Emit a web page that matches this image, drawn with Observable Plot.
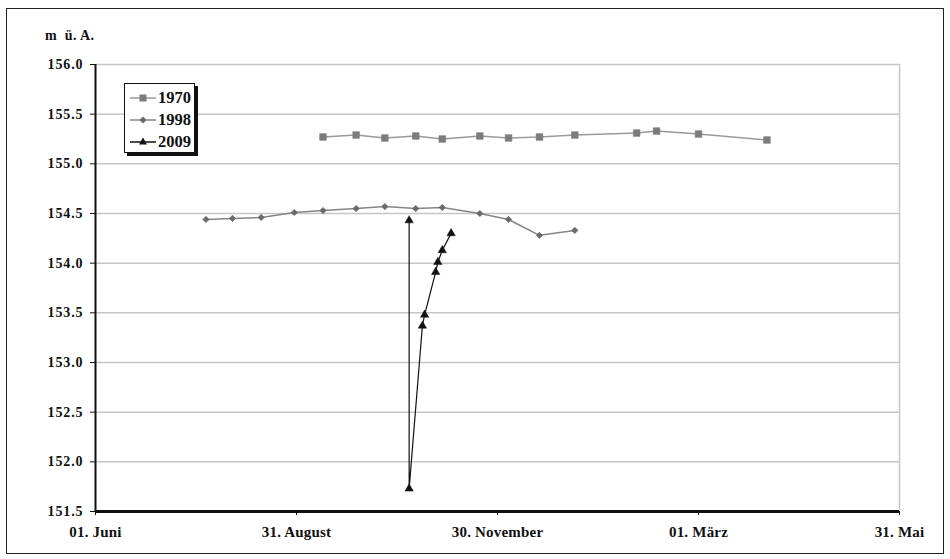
<!DOCTYPE html>
<html>
<head>
<meta charset="utf-8">
<script src="https://cdn.jsdelivr.net/npm/d3@7"></script>
<script src="https://cdn.jsdelivr.net/npm/@observablehq/plot@0.6"></script>
<style>
  body { margin: 0; background: #fff; }
  #wrap { position: relative; width: 950px; height: 559px; font-family: "Liberation Serif", "Times New Roman", serif; font-weight: bold; }
  #frame { position: absolute; left: 6px; top: 8px; width: 938px; height: 546px; border: 1.5px solid #222; box-sizing: border-box; pointer-events: none; }
  #ytitle { position: absolute; left: 45px; top: 28px; font-size: 14px; letter-spacing: 0.4px; color: #111; }
  #legend { position: absolute; left: 124px; top: 83px; width: 71px; height: 70px; border: 1.5px solid #111; box-shadow: 3px 3px 0 #111; background: #fff; box-sizing: border-box; padding-top: 3px; }
  .row { display: flex; align-items: center; height: 22px; padding-left: 5px; font-size: 16.5px; color: #111; }
  .row svg { margin-right: 2px; }
  .yax text { font-size: 14px; letter-spacing: 0.9px; }
  .xax text { font-size: 15px; letter-spacing: 0.2px; }
</style>
</head>
<body>
<div id="wrap">
  <div id="chart"></div>
  <div id="ytitle">m&nbsp; ü. A.</div>
  <div id="legend"></div>
  <div id="frame"></div>
</div>
<script>
// Days counted from 01. Juni
const xTicks = [0, 91, 182, 273, 364];
const xLabels = ["01. Juni", "31. August", "30. November", "01. März", "31. Mai"];
const yTicks = [151.5, 152.0, 152.5, 153.0, 153.5, 154.0, 154.5, 155.0, 155.5, 156.0];

const years = ["1970", "1998", "2009"];

const days1970 = [103, 118, 131, 145, 157, 174, 187, 201, 217, 245, 254, 273, 304];
const vals1970 = [155.27, 155.29, 155.26, 155.28, 155.25, 155.28, 155.26, 155.27, 155.29, 155.31, 155.33, 155.30, 155.24];

const days1998 = [50, 62, 75, 90, 103, 118, 131, 145, 157, 174, 187, 201, 217];
const vals1998 = [154.44, 154.45, 154.46, 154.51, 154.53, 154.55, 154.57, 154.55, 154.56, 154.50, 154.44, 154.28, 154.33];

const days2009 = [142, 142, 148, 149, 154, 155, 157, 161];
const vals2009 = [154.43, 151.73, 153.37, 153.48, 153.91, 154.01, 154.13, 154.30];

const rows = (year, ds, vs) => ds.map((d, i) => ({year, day: d, value: vs[i]}));
const d1970 = rows("1970", days1970, vals1970);
const d1998 = rows("1998", days1998, vals1998);
const d2009 = rows("2009", days2009, vals2009);

const chart = Plot.plot({
  width: 950,
  height: 559,
  marginLeft: 95,
  marginRight: 51,
  marginTop: 64,
  marginBottom: 48,
  x: {domain: [0, 364]},
  y: {domain: [151.5, 156]},
  style: {fontFamily: "'Liberation Serif', 'Times New Roman', serif", fontWeight: "bold", fontSize: "14px", color: "#111", background: "transparent"},
  marks: [
    Plot.ruleY(yTicks.filter(t => t > 151.5), {stroke: "#c6c6c6", strokeWidth: 1.5}),
    Plot.ruleX([364], {stroke: "#c6c6c6", strokeWidth: 1.5}),
    Plot.axisY({ticks: yTicks, tickFormat: d => d.toFixed(1), tickSize: 5, tickPadding: 7, label: null, stroke: "#111", className: "yax"}),
    Plot.axisX({ticks: xTicks, tickFormat: d => xLabels[xTicks.indexOf(d)], tickSize: 4, tickPadding: 11, label: null, stroke: "#111", className: "xax"}),
    Plot.ruleX([0], {stroke: "#111", strokeWidth: 2}),
    Plot.ruleY([151.5], {stroke: "#111", strokeWidth: 3}),
    Plot.line(d1970, {x: "day", y: "value", stroke: "#9a9a9a", strokeWidth: 1.5}),
    Plot.dot(d1970, {x: "day", y: "value", symbol: "square", r: 3.8, fill: "#7c7c7c", stroke: "#7c7c7c", strokeWidth: 0.5}),
    Plot.line(d1998, {x: "day", y: "value", stroke: "#858585", strokeWidth: 1.5}),
    Plot.dot(d1998, {x: "day", y: "value", symbol: "diamond2", r: 2.8, fill: "#6a6a6a", stroke: "#6a6a6a", strokeWidth: 0.8}),
    Plot.line(d2009, {x: "day", y: "value", stroke: "#111", strokeWidth: 1.2}),
    Plot.dot(d2009, {x: "day", y: "value", symbol: "triangle", r: 3.1, fill: "#111", stroke: "#111", strokeWidth: 0.5})
  ]
});
document.getElementById("chart").appendChild(chart);

// Legend
const legendStyles = {
  "1970": {line: "#9a9a9a", mark: "#7c7c7c", shape: "square"},
  "1998": {line: "#858585", mark: "#6a6a6a", shape: "diamond"},
  "2009": {line: "#111", mark: "#111", shape: "triangle"}
};
const legend = document.getElementById("legend");
years.forEach(y => {
  const s = legendStyles[y];
  let m;
  if (s.shape === "square") m = `<rect x="9.5" y="3.5" width="7" height="7" fill="${s.mark}"/>`;
  else if (s.shape === "diamond") m = `<path d="M13,3.5L16.5,7L13,10.5L9.5,7Z" fill="${s.mark}"/>`;
  else m = `<path d="M13,2.5L17,9.5L9,9.5Z" fill="${s.mark}"/>`;
  legend.insertAdjacentHTML("beforeend",
    `<div class="row"><svg width="26" height="14"><line x1="0" y1="7" x2="26" y2="7" stroke="${s.line}" stroke-width="1.5"/>${m}</svg>${y}</div>`);
});
</script>
</body>
</html>
